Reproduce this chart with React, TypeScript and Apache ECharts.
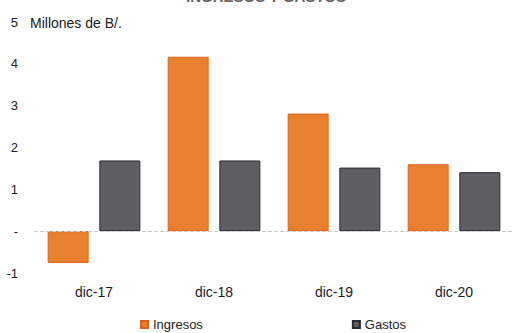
import React, { useEffect, useRef } from "react";
import * as echarts from "echarts";

const categories = ["dic-17", "dic-18", "dic-19", "dic-20"];
const ingresos = [-0.76, 4.17, 2.81, 1.6];
const gastos = [1.69, 1.69, 1.52, 1.41];
const yTicks = [-1, 0, 1, 2, 3, 4, 5];

export default function App() {
  const ref = useRef<HTMLDivElement>(null);
  useEffect(() => {
    const chart = echarts.init(ref.current!, undefined, { renderer: "svg" });
    const font = "Liberation Sans, Arial, sans-serif";
    chart.setOption({
      animation: false,
      textStyle: { fontFamily: font },
      grid: { left: 34, right: -6, top: 22, bottom: 60 },
      graphic: [
        {
          type: "text",
          x: 266,
          y: 4,
          style: {
            text: "INGRESOS Y GASTOS",
            fill: "#666",
            font: "bold 15px " + font,
            textAlign: "center",
            textVerticalAlign: "bottom",
          },
        },
        {
          type: "text",
          x: 30,
          y: 23,
          style: {
            text: "Millones de B/.",
            fill: "#222",
            font: "14px " + font,
            textAlign: "left",
            textVerticalAlign: "middle",
          },
        },
      ],
      legend: {
        left: 135,
        top: 313,
        itemWidth: 7,
        itemHeight: 7,
        itemGap: 149,
        icon: "rect",
        textStyle: { fontSize: 13, color: "#222", fontFamily: font },
        data: ["Ingresos", "Gastos"],
      },
      xAxis: {
        type: "category",
        data: categories,
        axisLine: { show: false, onZero: false },
        axisTick: { show: false },
        axisLabel: { color: "#222", fontSize: 14, margin: 12 },
      },
      yAxis: {
        type: "value",
        min: yTicks[0],
        max: yTicks[yTicks.length - 1],
        interval: 1,
        splitLine: { show: false },
        axisLine: { show: false },
        axisTick: { show: false },
        axisLabel: {
          color: "#222",
          fontSize: 13,
          margin: 16,
          formatter: (v: number) => (v === 0 ? "-" : String(v)),
        },
      },
      series: [
        {
          name: "Ingresos",
          type: "bar",
          data: ingresos,
          barWidth: 41,
          barGap: "26%",
          itemStyle: { color: "#E8812E", borderColor: "#E0601E", borderWidth: 1 },
          markLine: {
            silent: true,
            symbol: "none",
            label: { show: false },
            lineStyle: { color: "#cccccc", type: "dashed", width: 1 },
            data: [{ yAxis: 0 }],
          },
        },
        {
          name: "Gastos",
          type: "bar",
          data: gastos,
          barWidth: 41,
          itemStyle: { color: "#5E5E62", borderColor: "#2a2a2e", borderWidth: 1 },
        },
      ],
    });
    return () => chart.dispose();
  }, []);
  return <div ref={ref} style={{ width: 514, height: 333, position: "absolute", left: 0, top: 0 }} />;
}
